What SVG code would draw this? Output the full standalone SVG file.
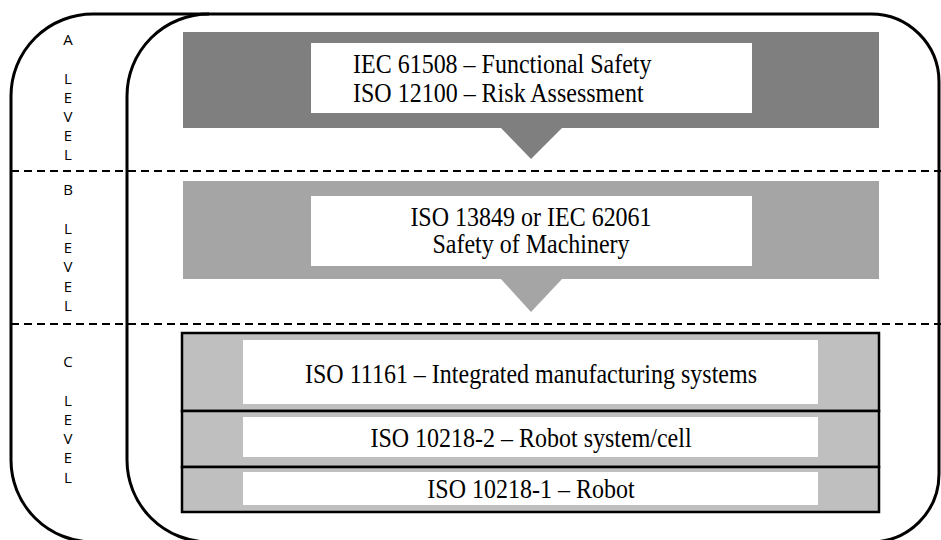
<svg xmlns="http://www.w3.org/2000/svg" width="941" height="540" viewBox="0 0 941 540">
<style>
.frame{fill:none;stroke:#000;stroke-width:3}
.dash{fill:none;stroke:#000;stroke-width:2;stroke-dasharray:8 5}
.lvl{font-family:'Open Sans','Liberation Sans',sans-serif;font-size:15px;fill:#000;text-anchor:middle}
.std{font-family:'Liberation Serif','Times New Roman',Times,serif;font-size:24px;fill:#000}
.mid{text-anchor:middle}
.white{fill:#fff}
.c-row{fill:#bfbfbf;stroke:#000;stroke-width:2.5}
</style>
<rect width="941" height="540" fill="#fff"/>
<g id="frames">
<path class="frame" d="M93,542 A82,82 0 0 1 11,460 L11,96 A82,82 0 0 1 93,14 L871,14 A68,68 0 0 1 939,82 L939,474 A68,68 0 0 1 871,542"/>
<path class="frame" d="M209,542 A82,82 0 0 1 127,460 L127,96 A82,82 0 0 1 209,14"/>
</g>
<g id="separators">
<line class="dash" x1="11" y1="171" x2="941" y2="171"/>
<line class="dash" x1="11" y1="324" x2="941" y2="324"/>
</g>
<g id="level-labels">
<text class="lvl" x="68" y="45">A</text>
<text class="lvl" x="68" y="84">L</text>
<text class="lvl" x="68" y="103">E</text>
<text class="lvl" x="68" y="122">V</text>
<text class="lvl" x="68" y="141">E</text>
<text class="lvl" x="68" y="160">L</text>
<text class="lvl" x="68" y="195">B</text>
<text class="lvl" x="68" y="234">L</text>
<text class="lvl" x="68" y="253">E</text>
<text class="lvl" x="68" y="272">V</text>
<text class="lvl" x="68" y="292">E</text>
<text class="lvl" x="68" y="311">L</text>
<text class="lvl" x="68" y="367">C</text>
<text class="lvl" x="68" y="406">L</text>
<text class="lvl" x="68" y="425">E</text>
<text class="lvl" x="68" y="444">V</text>
<text class="lvl" x="68" y="463">E</text>
<text class="lvl" x="68" y="483">L</text>
</g>
<g id="level-a">
<rect x="183" y="32" width="696" height="96" fill="#7f7f7f"/>
<polygon points="500,127 563,127 531,159" fill="#7f7f7f"/>
<rect class="white" x="311" y="43" width="441" height="70"/>
<text class="std" transform="translate(353,73) scale(1,1.1)">IEC 61508 – Functional Safety</text>
<text class="std" transform="translate(353,102) scale(1,1.1)">ISO 12100 – Risk Assessment</text>
</g>
<g id="level-b">
<rect x="183" y="181" width="696" height="98" fill="#a5a5a5"/>
<polygon points="500,278 563,278 531,312" fill="#a5a5a5"/>
<rect class="white" x="311" y="196" width="441" height="70"/>
<text class="std mid" transform="translate(531,226) scale(1,1.1)">ISO 13849 or IEC 62061</text>
<text class="std mid" transform="translate(531,253) scale(1,1.1)">Safety of Machinery</text>
</g>
<g id="level-c">
<rect class="c-row" x="182" y="333" width="697" height="78"/>
<rect class="c-row" x="182" y="411" width="697" height="56"/>
<rect class="c-row" x="182" y="467" width="697" height="45"/>
<rect class="white" x="243" y="340" width="575" height="64"/>
<rect class="white" x="243" y="417" width="575" height="40"/>
<rect class="white" x="243" y="472" width="575" height="33"/>
<text class="std mid" transform="translate(531,383) scale(1,1.1)">ISO 11161 – Integrated manufacturing systems</text>
<text class="std mid" transform="translate(531,447) scale(1,1.1)">ISO 10218-2 – Robot system/cell</text>
<text class="std mid" transform="translate(531,498) scale(1,1.1)">ISO 10218-1 – Robot</text>
</g>
</svg>
